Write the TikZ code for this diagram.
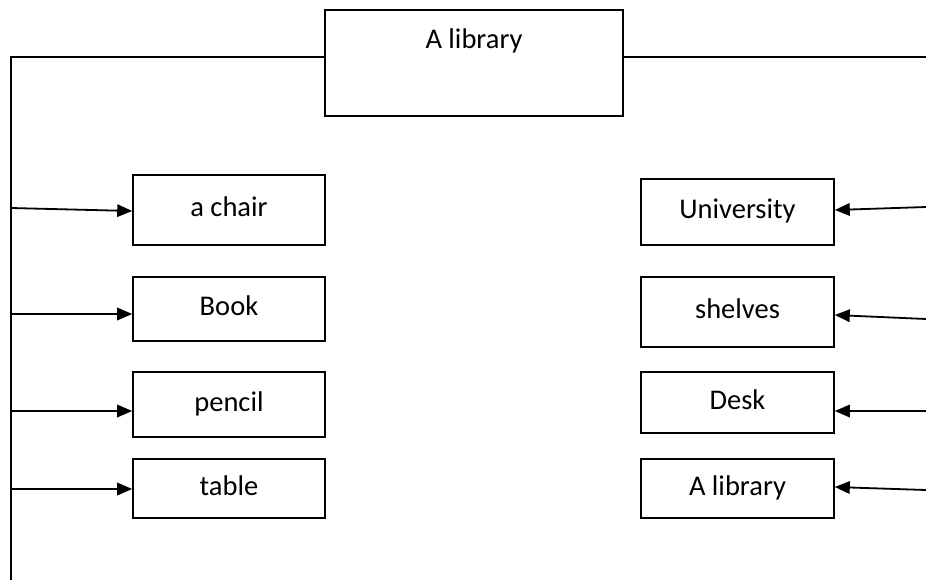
\documentclass[tikz,border=0pt]{standalone}
\usepackage{fontspec}
\setmainfont{Carlito}
\usetikzlibrary{arrows.meta,calc}
\begin{document}
\begin{tikzpicture}[x=1pt,y=-1pt,
  every node/.style={font=\fontsize{28.5}{34}\selectfont},
  itembox/.style={draw,line width=1.6pt,inner sep=0pt,
    text height=19pt,text depth=6pt},
  leftbox/.style={itembox,minimum width=192pt},
  rightbox/.style={itembox,minimum width=193pt},
  wire/.style={line width=1.8pt},
  arr/.style={wire,-{Triangle[length=15pt,width=12.5pt]}}]
\useasboundingbox (0,0) rectangle (926,579);

% title box, text sits near its top edge
\node[draw,line width=1.6pt,inner sep=0pt,minimum width=298pt,
  text height=38pt,text depth=68pt] (top) at (474,63) {A library};

% items on the left
\node[leftbox,minimum height=70pt] (chair)  at (229,210)   {a chair};
\node[leftbox,minimum height=64pt] (book)   at (229,309)   {Book};
\node[leftbox,minimum height=65pt] (pencil) at (229,404.5) {pencil};
\node[leftbox,minimum height=59pt] (table)  at (229,488.5) {table};

% items on the right
\node[rightbox,minimum height=66pt] (univ)    at (737.5,212)   {University};
\node[rightbox,minimum height=70pt] (shelves) at (737.5,312)   {shelves};
\node[rightbox,minimum height=61pt] (desk)    at (737.5,402.5) {Desk};
\node[rightbox,minimum height=59pt] (lib)     at (737.5,488.5) {A library};

% trunk lines
\coordinate (hl) at (11,57);
\coordinate (hr) at (926,57);
\coordinate (vb) at (11,579);
\draw[wire,line cap=rect] (vb) -- (hl) -- (top.west |- hl);
\draw[wire] (top.east |- hl) -- (hr);

% branch points on the left trunk
\coordinate (l1) at (11,208);
\coordinate (l2) at (11,314);
\coordinate (l3) at (11,411);
\coordinate (l4) at (11,489);
\draw[arr] (l1) -- ($(chair.west)+(0,1)$);
\draw[arr] (l2) -- (l2 -| book.west);
\draw[arr] (l3) -- (l3 -| pencil.west);
\draw[arr] (l4) -- (l4 -| table.west);

% incoming arrows from the right edge
\coordinate (r1) at (926,207);
\coordinate (r2) at (926,319);
\coordinate (r3) at (926,411);
\coordinate (r4) at (926,490);
\draw[arr] (r1) -- ($(univ.east)+(0,-2)$);
\draw[arr] (r2) -- ($(shelves.east)+(0,3)$);
\draw[arr] (r3) -- (r3 -| desk.east);
\draw[arr] (r4) -- ($(lib.east)+(0,-1.5)$);
\end{tikzpicture}
\end{document}
